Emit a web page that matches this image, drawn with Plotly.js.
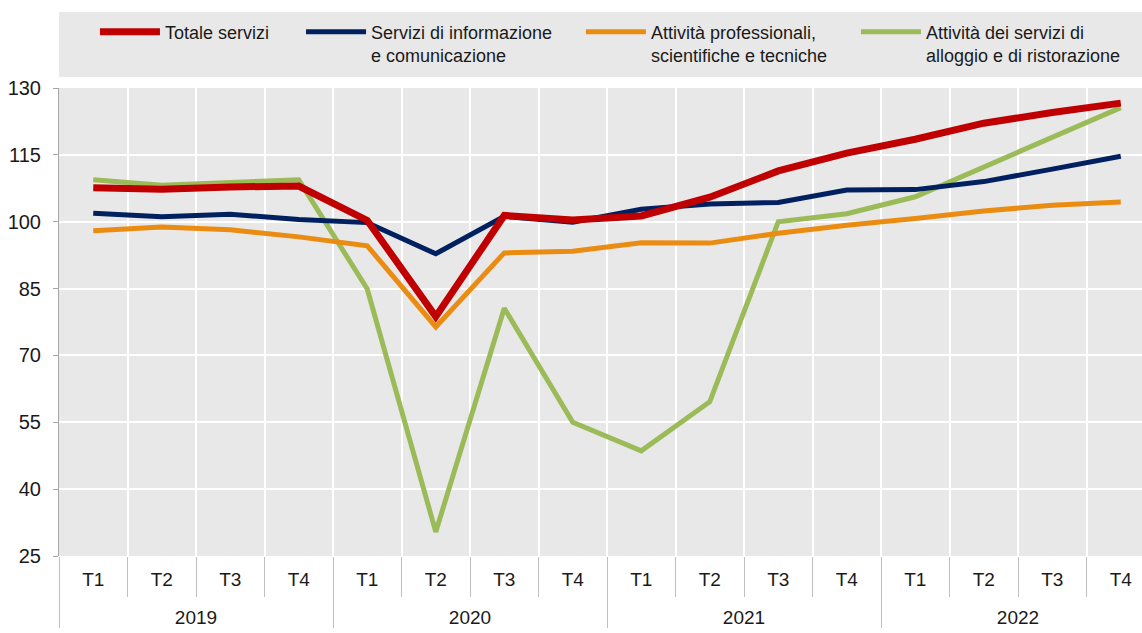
<!DOCTYPE html>
<html>
<head>
<meta charset="utf-8">
<script src="https://cdn.plot.ly/plotly-3.0.1.min.js"></script>
<style>html,body{margin:0;padding:0;background:#fff;overflow:hidden}</style>
</head>
<body>
<div id="chart" style="width:1142px;height:633px"></div>
<script>
const years = ['2019', '2020', '2021', '2022'];
const quarters = ['T1', 'T2', 'T3', 'T4'];

const totaleServizi = [107.6, 107.3, 107.8, 108.0, 100.3, 78.7, 101.4, 100.4, 101.3, 105.5, 111.4, 115.4, 118.5, 122.1, 124.5, 126.6];
const informazione = [101.9, 101.1, 101.7, 100.5, 99.8, 92.8, 101.2, 99.9, 102.8, 104.0, 104.3, 107.1, 107.2, 109.0, 111.8, 114.7];
const professionali = [98.0, 98.8, 98.2, 96.6, 94.6, 76.4, 93.0, 93.4, 95.3, 95.2, 97.4, 99.2, 100.7, 102.4, 103.7, 104.4];
const alloggio = [109.4, 108.2, 108.8, 109.4, 84.9, 30.4, 80.6, 55.0, 48.6, 59.6, 100.0, 101.8, 105.6, 112.2, 118.9, 125.6];

const seriesNames = [
  'Totale servizi',
  'Servizi di informazione<br>e comunicazione',
  'Attività professionali,<br>scientifiche e tecniche',
  'Attività dei servizi di<br>alloggio e di ristorazione'
];

// quarter labels carry an empty second line so the year row sits lower, as in the reference
const xYears = [], xQuarters = [];
years.forEach(y => quarters.forEach(q => { xYears.push(y); xQuarters.push(q + '<br>\u00a0'); }));
const x = [xYears, xQuarters];

const FONT = 'Liberation Sans, Arial, sans-serif';
const legendFont = {family: FONT, size: 18, color: '#1a1a1a'};

const traces = [
  {y: totaleServizi, name: seriesNames[0], color: '#C00000', width: 7, legend: 'legend'},
  {y: informazione, name: seriesNames[1], color: '#002060', width: 5, legend: 'legend2'},
  {y: professionali, name: seriesNames[2], color: '#EB8C12', width: 5, legend: 'legend3'},
  {y: alloggio, name: seriesNames[3], color: '#9BBB59', width: 5, legend: 'legend4'}
].map(s => ({
  type: 'scatter', mode: 'lines', x: x, y: s.y, name: s.name, legend: s.legend,
  line: {color: s.color, width: s.width}, hoverinfo: 'skip'
}));
const data = [traces[3], traces[2], traces[1], traces[0]];

function leg(xp) {
  return {x: xp, y: 1.159, xanchor: 'left', yanchor: 'top', orientation: 'v',
    bgcolor: 'rgba(0,0,0,0)', borderwidth: 0, valign: 'top', font: legendFont,
    itemwidth: 60, traceorder: 'normal'};
}

const layout = {
  width: 1142, height: 633,
  margin: {l: 59, r: 0, t: 88, b: 77},
  paper_bgcolor: '#ffffff',
  plot_bgcolor: '#e8e8e8',
  font: {family: FONT, size: 19, color: '#1a1a1a'},
  showlegend: true,
  legend: leg(0.0332),
  legend2: leg(0.2235),
  legend3: leg(0.4819),
  legend4: leg(0.7359),
  xaxis: {
    type: 'multicategory',
    range: [-0.5, 15.31],
    showgrid: true, gridcolor: '#ffffff', gridwidth: 2,
    tickson: 'boundaries', ticks: 'outside', ticklen: 40, tickcolor: '#bfbfbf', tickwidth: 1,
    showdividers: true, dividercolor: '#bfbfbf', dividerwidth: 1,
    showline: false, zeroline: false, ticklabelstandoff: 10,
    tickfont: {family: FONT, size: 19, color: '#1a1a1a'}
  },
  yaxis: {
    range: [25, 130], tick0: 25, dtick: 15,
    showgrid: true, gridcolor: '#ffffff', gridwidth: 2,
    showline: true, linecolor: '#a6a6a6', linewidth: 1,
    ticks: 'outside', ticklen: 5, tickcolor: '#a6a6a6',
    zeroline: false, ticklabelstandoff: 8,
    tickfont: {family: FONT, size: 20, color: '#1a1a1a'}
  },
  shapes: [
    {type: 'rect', xref: 'paper', yref: 'paper', x0: 0, x1: 1, y0: 1.0235, y1: 1.1624,
     fillcolor: '#e8e8e8', line: {width: 0}, layer: 'below'},
    {type: 'line', xref: 'paper', yref: 'y', x0: 0, x1: 1, y0: 100, y1: 100,
     line: {color: '#a6a6a6', width: 1.5}, layer: 'between'}
  ]
};

Plotly.newPlot('chart', data, layout, {displayModeBar: false, staticPlot: true});
</script>
</body>
</html>
